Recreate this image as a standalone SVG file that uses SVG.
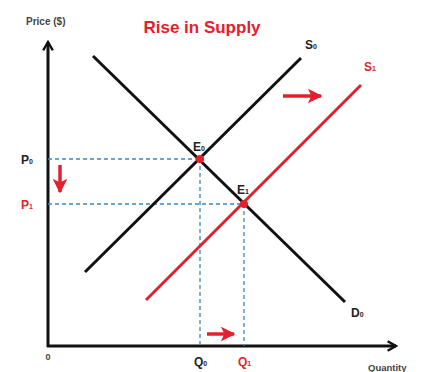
<svg xmlns="http://www.w3.org/2000/svg" width="444" height="372" viewBox="0 0 444 372">
<style>
.lbl{font-family:"Liberation Sans",Arial,sans-serif;font-weight:bold;}
.blk{fill:#222;}
.red{fill:#e3202b;}
.ax{stroke:#111;stroke-width:3;fill:none;}
.crv{stroke:#111;stroke-width:3;fill:none;}
.rcrv{stroke:#e3202b;stroke-width:3;fill:none;}
.dash{stroke:#3b86c0;stroke-width:1.3;stroke-dasharray:4 3;fill:none;}
.rarr{stroke:#e3202b;stroke-width:3.5;fill:none;}
</style>
<defs>
<marker id="ah" viewBox="0 0 10 10" refX="8" refY="5" markerWidth="4" markerHeight="4" orient="auto" markerUnits="strokeWidth">
<path d="M1,1 L8,5 L1,9" fill="none" stroke="#111" stroke-width="2"/>
</marker>
<marker id="rah" viewBox="0 0 10 10" refX="9" refY="5" markerWidth="4.2" markerHeight="4.2" orient="auto" markerUnits="strokeWidth">
<path d="M0,0 L10,5 L0,10 L2.5,5 Z" fill="#e3202b"/>
</marker>
</defs>
<rect width="444" height="372" fill="#fff"/>
<text class="lbl red" x="202" y="33" font-size="17" text-anchor="middle">Rise in Supply</text>
<g id="axes">
<line class="ax" x1="48" y1="347" x2="48" y2="42" marker-end="url(#ah)"/>
<line class="ax" x1="47" y1="346" x2="396" y2="346" marker-end="url(#ah)"/>
<text class="lbl" x="26" y="25" font-size="10" fill="#444">Price ($)</text>
<text class="lbl" x="368" y="371" font-size="9.5" fill="#444">Quantity</text>
<text class="lbl" x="48" y="360" font-size="9" fill="#444" text-anchor="middle">0</text>
</g>
<g id="connectors">
<line class="dash" x1="48" y1="159" x2="200" y2="159"/>
<line class="dash" x1="48" y1="204" x2="244" y2="204"/>
<line class="dash" x1="200" y1="159" x2="200" y2="346"/>
<line class="dash" x1="244" y1="204" x2="244" y2="346"/>
<line class="rarr" x1="283" y1="96" x2="321" y2="96" marker-end="url(#rah)"/>
<line class="rarr" x1="60" y1="165" x2="60" y2="192" marker-end="url(#rah)"/>
<line class="rarr" x1="207" y1="334" x2="234" y2="334" marker-end="url(#rah)"/>
</g>
<g id="D0">
<line class="crv" x1="93" y1="56" x2="345" y2="302"/>
<text class="lbl blk" x="351" y="317" font-size="12">D<tspan font-size="7">0</tspan></text>
</g>
<g id="S0">
<line class="crv" x1="85" y1="272" x2="301" y2="58"/>
<text class="lbl blk" x="305" y="49" font-size="12">S<tspan font-size="7">0</tspan></text>
</g>
<g id="S1">
<line class="rcrv" x1="146" y1="300" x2="361" y2="85"/>
<text class="lbl red" x="364" y="71" font-size="12">S<tspan font-size="7">1</tspan></text>
</g>
<g id="E0">
<circle cx="200" cy="159" r="4" fill="#e3202b"/>
<text class="lbl blk" x="193" y="151" font-size="12">E<tspan font-size="7">0</tspan></text>
</g>
<g id="E1">
<circle cx="244" cy="204" r="4" fill="#e3202b"/>
<text class="lbl blk" x="237" y="194" font-size="12">E<tspan font-size="7">1</tspan></text>
</g>
<g id="P0"><text class="lbl blk" x="21" y="164" font-size="12">P<tspan font-size="7">0</tspan></text></g>
<g id="P1"><text class="lbl red" x="21" y="209" font-size="12">P<tspan font-size="7">1</tspan></text></g>
<g id="Q0"><text class="lbl blk" x="194" y="366" font-size="12">Q<tspan font-size="7">0</tspan></text></g>
<g id="Q1"><text class="lbl red" x="238" y="366" font-size="12">Q<tspan font-size="7">1</tspan></text></g>
</svg>
